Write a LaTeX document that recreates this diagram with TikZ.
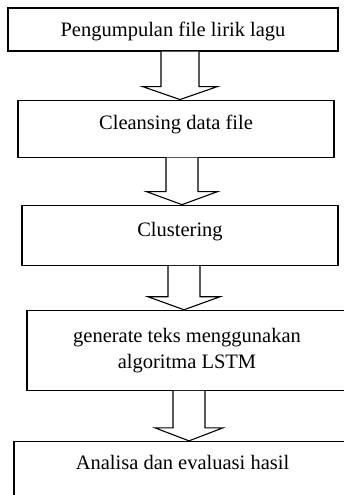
\documentclass[tikz,border=0pt]{standalone}
\usepackage{fontspec}
\setmainfont{Liberation Serif}
\usetikzlibrary{positioning,calc}

\tikzset{box/.style={draw,rectangle,line width=1.1pt,align=center,inner sep=0pt,font=\fontsize{20.5}{26}\selectfont}}
\tikzset{hollow/.style={draw,line width=1.1pt,fill=white}}

% block arrow from the bottom of #1 to the top of #2, shaft centred at x=#3
\newcommand{\blockarrow}[5]{%
  \path[hollow] let \p1=(#1.south), \p2=(#2.north) in
    (#3-#4,\y1) -- (#3-#4,\y2+13pt) -- (#3-#5,\y2+13pt) -- (#3,\y2)
    -- (#3+#5,\y2+13pt) -- (#3+#4,\y2+13pt) -- (#3+#4,\y1);}

\begin{document}
\begin{tikzpicture}[x=1pt,y=-1pt]

	\useasboundingbox (0,0) rectangle (344,495);
	\clip (0,0) rectangle (344,495);

	\node[box,minimum width=330pt,minimum height=43pt,text height=19pt,text depth=4pt] (collect) at (173,29.5) {Pengumpulan file lirik lagu};
	\node[box,minimum width=316pt,minimum height=57pt,text height=14pt,text depth=13pt,below=48pt of collect,xshift=3pt] (cleanse) {Cleansing data file};
	\node[box,minimum width=316pt,minimum height=60pt,text height=14pt,text depth=12pt,below=47pt of cleanse,xshift=4pt] (cluster) {Clustering};
	\node[box,minimum width=320pt,minimum height=80pt,below=44pt of cluster,xshift=7pt] (lstm) {generate teks menggunakan\\algoritma LSTM};
	\node[box,minimum width=337pt,text height=28pt,text depth=70pt,below=50pt of lstm,xshift=-4.5pt] (eval) {Analisa dan evaluasi hasil};

	\blockarrow{collect}{cleanse}{180pt}{19pt}{37.5pt}
	\blockarrow{cleanse}{cluster}{182pt}{16pt}{35.5pt}
	\blockarrow{cluster}{lstm}{184pt}{16pt}{36pt}
	\blockarrow{lstm}{eval}{189pt}{16pt}{34pt}

\end{tikzpicture}
\end{document}
